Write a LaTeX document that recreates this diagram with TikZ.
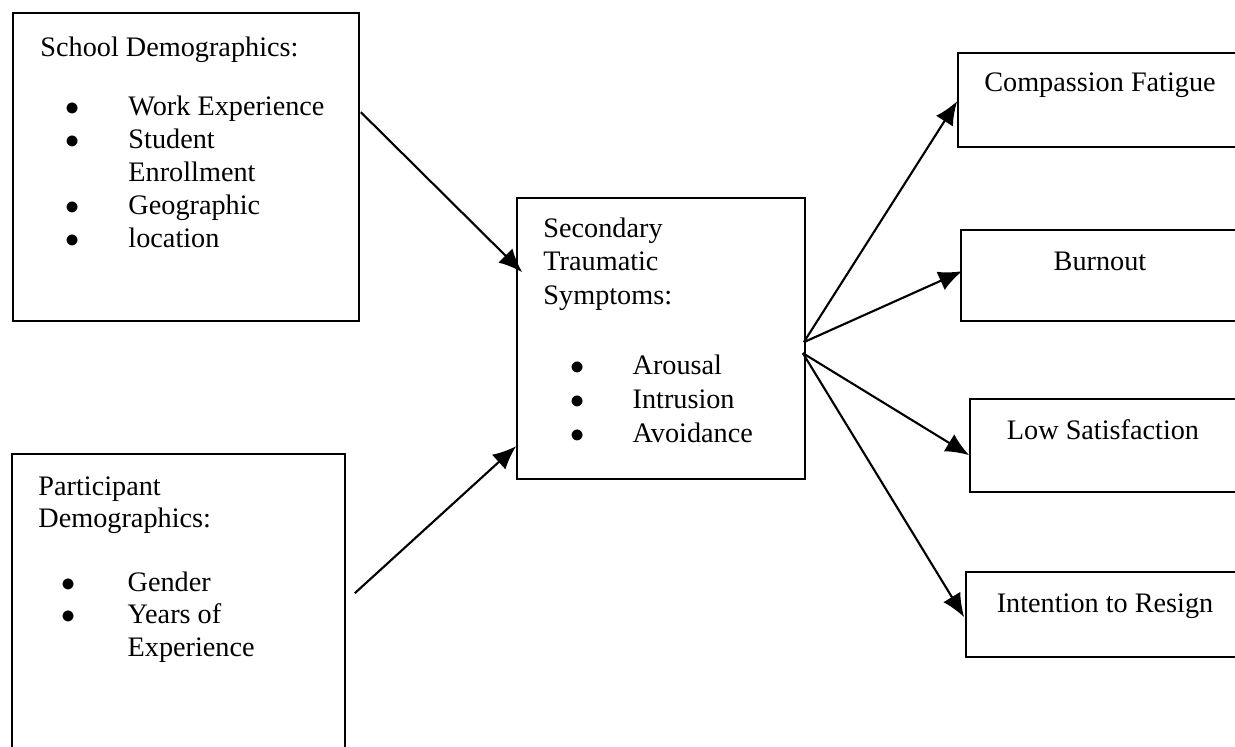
\documentclass[tikz,border=0pt]{standalone}
\usepackage{fontspec}
\setmainfont{Liberation Serif}
\usetikzlibrary{arrows.meta,calc,fit}
\newcommand{\bitem}[3]{\hspace*{#1}\makebox[#2][l]{$\bullet$}#3}
\begin{document}
\begin{tikzpicture}[x=0.425pt,y=-0.425pt,
  box/.style={draw, line width=0.7pt, inner sep=0pt},
  txt/.style={anchor=base west, inner sep=0pt, font=\fontsize{12}{14.1}\selectfont},
  ctxt/.style={anchor=base, inner sep=0pt, font=\fontsize{12}{14}\selectfont},
  arr/.style={line width=0.9pt, -{Latex[length=10pt,width=8.5pt]}}]
\useasboundingbox (0,0) rectangle (1235,747);
\clip (0,0) rectangle (1235,747);
% boxes
\node[box, fit={(13,13) (359,321)}] (A) {};
\node[box, fit={(12,454) (345,770)}] (B) {};
\node[box, fit={(517,198) (805,479)}] (C) {};
\node[box, fit={(958,53) (1260,147)}] (CF) {};
\node[box, fit={(961,230) (1260,321)}] (BO) {};
\node[box, fit={(970,399) (1260,492)}] (LS) {};
\node[box, fit={(966,572) (1260,657)}] (IR) {};
% texts
\node[txt] (tA) at (40,57) {\begin{tabular}[t]{@{}l@{}}School Demographics:\\[10.6pt]
\bitem{10.5pt}{26.9pt}{Work Experience}\\
\bitem{10.5pt}{26.9pt}{Student}\\
\hspace*{37.4pt}Enrollment\\
\bitem{10.5pt}{26.9pt}{Geographic}\\
\bitem{10.5pt}{26.9pt}{location}
\end{tabular}};
\node[txt, font=\fontsize{12}{14}\selectfont] (tB) at (38,495) {\begin{tabular}[t]{@{}l@{}}Participant\\
Demographics:\\[12.8pt]
\bitem{9.7pt}{28.2pt}{Gender}\\
\bitem{9.7pt}{28.2pt}{Years of}\\
\hspace*{37.9pt}Experience
\end{tabular}};
\node[txt, font=\fontsize{12}{14.45}\selectfont] (tC) at (543,237) {\begin{tabular}[t]{@{}l@{}}Secondary\\
Traumatic\\
Symptoms:\\[14.9pt]
\bitem{11.4pt}{26.5pt}{Arousal}\\
\bitem{11.4pt}{26.5pt}{Intrusion}\\
\bitem{11.4pt}{26.5pt}{Avoidance}
\end{tabular}};
\node[ctxt] (tCF) at (1100,92) {Compassion Fatigue};
\node[ctxt] (tBO) at (1100,270) {Burnout};
\node[ctxt] (tLS) at (1103,439) {Low Satisfaction};
\node[ctxt] (tIR) at (1105,612) {Intention to Resign};
% connectors
\draw[arr] ($(A.north east)+(1,100)$) -- ($(C.north west)+(6,75)$);
\draw[arr] ($(B.north east)+(9,140)$) -- ($(C.north west)+(0,249)$);
\draw[arr] ($(C.north east)+(-2,145)$) -- ($(CF.north west)+(0,49)$);
\draw[arr] ($(C.north east)+(-2,145)$) -- ($(BO.north west)+(2,42)$);
\draw[arr] ($(C.north east)+(-3,156)$) -- ($(LS.north west)+(0,57)$);
\draw[arr] ($(C.north east)+(-3,156)$) -- ($(IR.north west)+(-1,46)$);
\end{tikzpicture}
\end{document}
